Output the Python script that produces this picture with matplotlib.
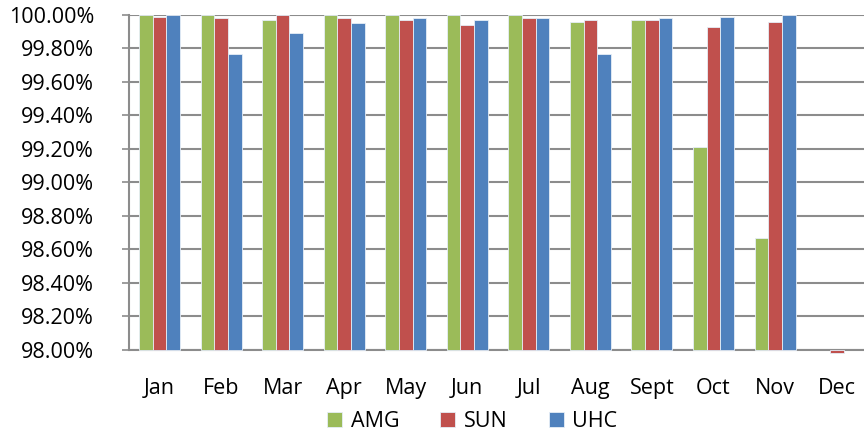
import matplotlib

matplotlib.use("Agg")
import matplotlib.pyplot as plt
from matplotlib.ticker import PercentFormatter
import numpy as np

months = ["Jan", "Feb", "Mar", "Apr", "May", "Jun", "Jul", "Aug", "Sept", "Oct", "Nov", "Dec"]
amg = [1.0000, 1.0000, 0.9997, 1.0000, 1.0000, 1.0000, 1.0000, 0.9996, 0.9997, 0.9921, 0.9867, np.nan]
sun = [0.9999, 0.9998, 1.0000, 0.9998, 0.9997, 0.9994, 0.9998, 0.9997, 0.9997, 0.9993, 0.9996, 0.9798]
uhc = [1.0000, 0.9977, 0.9989, 0.9995, 0.9998, 0.9997, 0.9998, 0.9977, 0.9998, 0.9999, 1.0000, np.nan]

series = [("AMG", amg, "#9BBB59"), ("SUN", sun, "#C0504D"), ("UHC", uhc, "#4F81BD")]
BASE = 0.98

plt.rcParams["font.family"] = ["Open Sans", "DejaVu Sans"]

fig = plt.figure(figsize=(8.64, 4.34), dpi=100)
ax = fig.add_axes([0.149, 0.194, 0.855, 0.7714])

x = np.arange(len(months))
w = 0.222
for i, (name, vals, col) in enumerate(series):
    v = np.array(vals, dtype=float)
    ax.bar(x + (i - 1) * w, v - BASE, bottom=BASE, width=w, color=col,
           edgecolor="#E6EEF7", linewidth=0.6, label=name, zorder=3, clip_on=False)

ax.set_xlim(-0.5, len(months) - 0.5)
ax.set_ylim(0.98, 1.0)
ax.set_yticks(np.arange(0.98, 1.0001, 0.002))
ax.yaxis.set_major_formatter(PercentFormatter(1.0, decimals=2))
ax.set_xticks(x)
ax.set_xticklabels(months)
ax.grid(axis="y", color="#8C8C8C", linewidth=1.5, zorder=0)
ax.set_axisbelow(True)

for s in ["top", "right"]:
    ax.spines[s].set_visible(False)
for s in ["left", "bottom"]:
    ax.spines[s].set_color("#8C8C8C")
    ax.spines[s].set_linewidth(1.5)

ax.tick_params(axis="y", length=5, width=1.2, color="#8C8C8C", labelsize=15.5, pad=20)
ax.tick_params(axis="x", length=0, labelsize=15.5, pad=20)

ax.legend(loc="center", bbox_to_anchor=(0.465, -0.215), ncol=3, frameon=False,
          fontsize=15.5, handlelength=0.7, handleheight=0.7, handletextpad=0.4,
          columnspacing=1.9, borderpad=0)

fig.savefig("out.png", dpi=100)
